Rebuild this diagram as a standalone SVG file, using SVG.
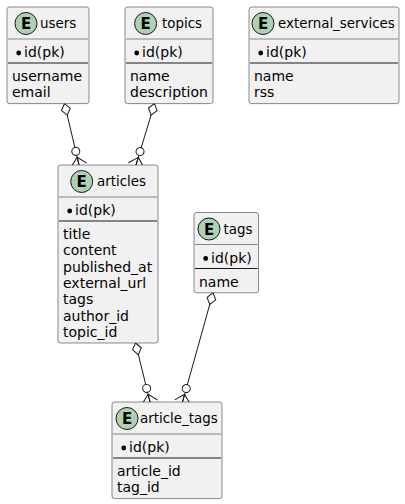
<svg xmlns="http://www.w3.org/2000/svg" width="405" height="504" viewBox="0 0 405 504">
<defs>
<style>
.box{fill:#F1F1F1;stroke:#181818;stroke-width:0.5}
.hs{stroke:#181818;stroke-width:0.5}
.bs{stroke:#181818;stroke-width:1}
.ec{fill:#ADD1B2;stroke:#181818;stroke-width:1}
.el{font-family:"DejaVu Sans",sans-serif;font-size:15px;font-weight:bold;fill:#000;text-anchor:middle}
.n{font-family:"DejaVu Sans",sans-serif;font-size:13.4px;fill:#000}
.t{font-family:"DejaVu Sans",sans-serif;font-size:14px;fill:#000}
.bul{fill:#000}
.link{fill:none;stroke:#181818;stroke-width:1}
</style>
<marker id="agg" viewBox="-20 -10 40 20" markerWidth="40" markerHeight="20" refX="0" refY="0" orient="auto" markerUnits="userSpaceOnUse">
<path d="M0,0 L6,-4.5 L12,0 L6,4.5 Z" fill="#FFFFFF" stroke="#181818" stroke-width="1"/>
</marker>
<marker id="many0" viewBox="-20 -10 40 20" markerWidth="40" markerHeight="20" refX="0" refY="0" orient="auto" markerUnits="userSpaceOnUse">
<circle cx="-14" cy="0" r="4" fill="#FFFFFF" stroke="#181818" stroke-width="1"/>
<path d="M-8,0 L0,-8 M-8,0 L0,0 M-8,0 L0,8" fill="none" stroke="#181818" stroke-width="1"/>
</marker>
</defs>
<rect width="405" height="504" fill="#FFFFFF"/>
<g id="connectors">
<path class="link" d="M64.5,103.6 L79,165" marker-start="url(#agg)" marker-end="url(#many0)"/>
<path class="link" d="M154.5,103.6 L136,165" marker-start="url(#agg)" marker-end="url(#many0)"/>
<path class="link" d="M135.5,343 L150,402" marker-start="url(#agg)" marker-end="url(#many0)"/>
<path class="link" d="M213,292.8 L182.5,402" marker-start="url(#agg)" marker-end="url(#many0)"/>
</g>
<g id="users">
<rect class="box" x="7" y="7" width="82" height="96.6" rx="2.5" ry="2.5"/>
<circle class="ec" cx="26" cy="23.5" r="11"/>
<text class="el" x="26" y="29">E</text>
<text class="n" x="40" y="28">users</text>
<line class="hs" x1="8" y1="39" x2="88" y2="39"/>
<circle class="bul" cx="18.7" cy="53" r="2.4"/>
<text class="t" x="24" y="57">id(pk)</text>
<line class="bs" x1="8" y1="63" x2="88" y2="63"/>
<text class="t" x="12" y="81">username</text>
<text class="t" x="12" y="97.3">email</text>
</g>
<g id="topics">
<rect class="box" x="125" y="7" width="88" height="96.6" rx="2.5" ry="2.5"/>
<circle class="ec" cx="145.6" cy="23.5" r="11"/>
<text class="el" x="145.6" y="29">E</text>
<text class="n" x="162" y="28">topics</text>
<line class="hs" x1="126" y1="39" x2="212" y2="39"/>
<circle class="bul" cx="136.7" cy="53" r="2.4"/>
<text class="t" x="142" y="57">id(pk)</text>
<line class="bs" x1="126" y1="63" x2="212" y2="63"/>
<text class="t" x="130" y="81">name</text>
<text class="t" x="130" y="97.3">description</text>
</g>
<g id="external_services">
<rect class="box" x="249" y="7" width="150" height="96.6" rx="2.5" ry="2.5"/>
<circle class="ec" cx="263" cy="23.5" r="11"/>
<text class="el" x="263" y="29">E</text>
<text class="n" x="278" y="28">external_services</text>
<line class="hs" x1="250" y1="39" x2="398" y2="39"/>
<circle class="bul" cx="260.7" cy="53" r="2.4"/>
<text class="t" x="266" y="57">id(pk)</text>
<line class="bs" x1="250" y1="63" x2="398" y2="63"/>
<text class="t" x="254" y="81">name</text>
<text class="t" x="254" y="97.3">rss</text>
</g>
<g id="articles">
<rect class="box" x="58" y="165" width="100" height="178" rx="2.5" ry="2.5"/>
<circle class="ec" cx="81.7" cy="181.5" r="11"/>
<text class="el" x="81.7" y="187">E</text>
<text class="n" x="97" y="186">articles</text>
<line class="hs" x1="59" y1="197" x2="157" y2="197"/>
<circle class="bul" cx="69.7" cy="211" r="2.4"/>
<text class="t" x="75" y="215">id(pk)</text>
<line class="bs" x1="59" y1="221" x2="157" y2="221"/>
<text class="t" x="63" y="239">title</text>
<text class="t" x="63" y="255.3">content</text>
<text class="t" x="63" y="271.6">published_at</text>
<text class="t" x="63" y="287.9">external_url</text>
<text class="t" x="63" y="304.2">tags</text>
<text class="t" x="63" y="320.5">author_id</text>
<text class="t" x="63" y="336.8">topic_id</text>
</g>
<g id="tags">
<rect class="box" x="194" y="212.5" width="64.5" height="80.3" rx="2.5" ry="2.5"/>
<circle class="ec" cx="209" cy="229" r="11"/>
<text class="el" x="209" y="234.5">E</text>
<text class="n" x="223.5" y="233.5">tags</text>
<line class="hs" x1="195" y1="244.5" x2="257.5" y2="244.5"/>
<circle class="bul" cx="205.7" cy="258.5" r="2.4"/>
<text class="t" x="211" y="262.5">id(pk)</text>
<line class="bs" x1="195" y1="268.5" x2="257.5" y2="268.5"/>
<text class="t" x="199" y="286.5">name</text>
</g>
<g id="article_tags">
<rect class="box" x="112" y="402" width="110" height="96.6" rx="2.5" ry="2.5"/>
<circle class="ec" cx="127" cy="418.5" r="11"/>
<text class="el" x="127" y="424">E</text>
<text class="n" x="140" y="423">article_tags</text>
<line class="hs" x1="113" y1="434" x2="221" y2="434"/>
<circle class="bul" cx="123.7" cy="448" r="2.4"/>
<text class="t" x="129" y="452">id(pk)</text>
<line class="bs" x1="113" y1="458" x2="221" y2="458"/>
<text class="t" x="117" y="476">article_id</text>
<text class="t" x="117" y="492.3">tag_id</text>
</g>
</svg>
